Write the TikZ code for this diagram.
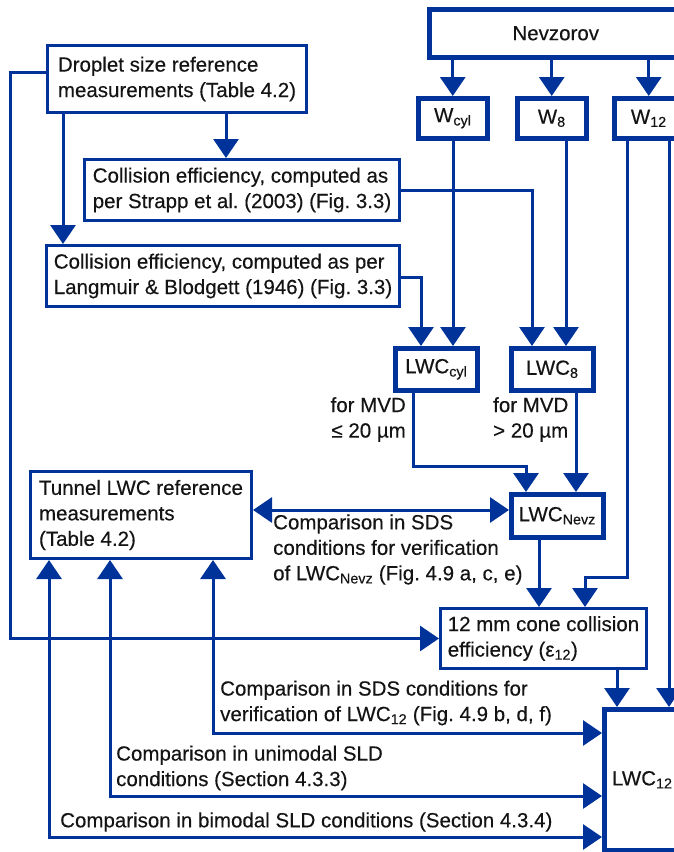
\documentclass[tikz,border=0pt]{standalone}
\usepackage{fontspec}
\setmainfont[FakeBold=0.3,AutoFakeBold=0.3]{Liberation Sans}
\usetikzlibrary{arrows.meta}
\definecolor{blu}{RGB}{0,51,153}
\definecolor{ink}{RGB}{20,20,20}
\begin{document}
\begin{tikzpicture}[x=1pt,y=-1pt,
  every node/.style={font=\fontsize{20.5}{25.5}\selectfont\bfseries, text=ink},
  thinbox/.style={draw=blu, line width=3pt, anchor=north west, align=left, inner sep=0pt},
  thickbox/.style={draw=blu, line width=4.5pt, anchor=north west, align=center, inner sep=0pt},
  lbl/.style={inner sep=0pt},
  con/.style={draw=blu, line width=3pt},
  arr/.style={con, -{Triangle[length=19pt,width=25pt]}},
  darr/.style={con, {Triangle[length=19pt,width=25pt]}-{Triangle[length=19pt,width=25pt]}},
]
\useasboundingbox (0,0) rectangle (673,852);

% boxes
\node[thickbox, minimum width=253pt, minimum height=48pt] (nev) at (427,7) {Nevzorov};
\node[thickbox, minimum width=69pt, minimum height=40pt] (w1) at (416,96) {W\textsubscript{cyl}};
\node[thickbox, minimum width=69pt, minimum height=40pt] (w8) at (515,96) {W\textsubscript{8}};
\node[thickbox, minimum width=69pt, minimum height=40pt] (w12) at (612,96) {W\textsubscript{12}};
\node[thinbox, minimum width=259pt, minimum height=67pt] (drop) at (46,44) {Droplet size reference\\measurements (Table 4.2)};
\node[thinbox, minimum width=315pt, minimum height=61pt] (strapp) at (83,158) {Collision efficiency, computed as\\per Strapp et al.\ (2003) (Fig.\ 3.3)};
\node[thinbox, minimum width=353pt, minimum height=61pt] (lang) at (45,244) {Collision efficiency, computed as per\\Langmuir \& Blodgett (1946) (Fig.\ 3.3)};
\node[thickbox, minimum width=82pt, minimum height=42pt] (lcyl) at (393,346) {LWC\textsubscript{cyl}};
\node[thickbox, minimum width=82pt, minimum height=42pt] (l8) at (509,346) {LWC\textsubscript{8}};
\node[thickbox, minimum width=92pt, minimum height=43pt] (nevz) at (509,492) {LWC\textsubscript{Nevz}};
\node[thinbox, minimum width=221pt, minimum height=87pt] (tun) at (29,470) {Tunnel LWC reference\\measurements\\(Table 4.2)};
\node[thinbox, minimum width=206pt, minimum height=60pt] (cone) at (439,607) {12 mm cone collision\\efficiency (ε\textsubscript{12})};
\node[thickbox, minimum width=76pt, minimum height=141pt] (l12) at (602,707) {LWC\textsubscript{12}};

% labels
\node[lbl, anchor=east, align=right] (mvd1) at (406,419.5) {for MVD\\≤ 20 µm};
\node[lbl, anchor=west, align=left] (mvd2) at (493,419.5) {for MVD\\> 20 µm};
\node[lbl, anchor=west, align=left] (c1) at (273,549.5) {Comparison in SDS\\conditions for verification\\of LWC\textsubscript{Nevz} (Fig.\ 4.9 a, c, e)};
\node[lbl, anchor=west, align=left] (c2) at (220,703) {Comparison in SDS conditions for\\verification of LWC\textsubscript{12} (Fig.\ 4.9 b, d, f)};
\node[lbl, anchor=west, align=left] (c3) at (116,768) {Comparison in unimodal SLD\\conditions (Section 4.3.3)};
\node[lbl, anchor=west, align=left] (c4) at (60,822) {Comparison in bimodal SLD conditions (Section 4.3.4)};

% connectors
\draw[arr] (nev.south -| w1.north) -- (w1.north);
\draw[arr] (nev.south -| w8.north) -- (w8.north);
\draw[arr] (nev.south -| w12.north) -- (w12.north);
\draw[arr] (drop.south -| 226,0) -- (strapp.north -| 226,0);
\draw[arr] (drop.south -| 63,0) -- (lang.north -| 63,0);
\draw[arr] (drop.west |- 0,72) -- ++(-36,0) |- (cone.west);
\draw[arr] (strapp.east) -| (l8.north -| 532,0);
\draw[arr] (lang.east |- 0,277) -| (lcyl.north -| 421,0);
\draw[arr] (w1.south -| 453,0) -- (lcyl.north -| 453,0);
\draw[arr] (w8.south -| 566,0) -- (l8.north -| 566,0);
\draw[arr] (lcyl.south -| 413,0) -- ++(0,74) -| (nevz.north -| 526,0);
\draw[arr] (l8.south -| 576,0) -- (nevz.north -| 576,0);
\draw[darr] (tun.east |- 0,510) -- (nevz.west |- 0,510);
\draw[arr] (nevz.south -| 539,0) -- (cone.north -| 539,0);
\draw[arr] (w12.south -| 627,0) -- ++(0,437) -| (cone.north -| 585,0);
\draw[arr] (cone.south -| 617,0) -- (l12.north -| 617,0);
\draw[arr] (w12.south -| 669,0) -- (l12.north -| 669,0);
\draw[darr] (tun.south -| 213,0) |- (l12.west |- 0,733);
\draw[darr] (tun.south -| 110,0) |- (l12.west |- 0,796);
\draw[darr] (tun.south -| 49,0) |- (l12.west |- 0,837);
\end{tikzpicture}
\end{document}
